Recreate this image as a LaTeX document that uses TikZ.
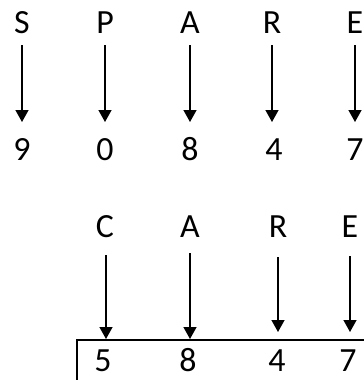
\documentclass[tikz,border=0pt]{standalone}
\usepackage{fontspec}
\setmainfont{Carlito}
\usetikzlibrary{arrows.meta}
\begin{document}
\begin{tikzpicture}[x=1bp,y=-1bp,
  lbl/.style={anchor=base,inner sep=0pt,font=\fontsize{34}{34}\selectfont},
  arr/.style={line width=1.4bp,-{Triangle[width=13bp,length=12bp]}}]
\useasboundingbox (0,0) rectangle (364,380);
\clip (0,0) rectangle (364,380);
% top word
\node[lbl] (s) at (22,33) {S};
\node[lbl] (p) at (105,33) {P};
\node[lbl] (a) at (190,33) {A};
\node[lbl] (r) at (272,33) {R};
\node[lbl] (e) at (355,33) {E};
\coordinate (s1) at (22,45);  \coordinate (s2) at (22,122);
\coordinate (p1) at (105,45); \coordinate (p2) at (105,122);
\coordinate (a1) at (190,45); \coordinate (a2) at (190,122);
\coordinate (r1) at (272,45); \coordinate (r2) at (272,122);
\coordinate (e1) at (355,45); \coordinate (e2) at (355,122);
\draw[arr] (s1) -- (s2);
\draw[arr] (p1) -- (p2);
\draw[arr] (a1) -- (a2);
\draw[arr] (r1) -- (r2);
\draw[arr] (e1) -- (e2);
% top digits
\node[lbl] (n9) at (22,160) {9};
\node[lbl] (n0) at (105,160) {0};
\node[lbl] (n8) at (190,160) {8};
\node[lbl] (n4) at (274,160) {4};
\node[lbl] (n7) at (355,160) {7};
% second word
\node[lbl] (c2) at (105,237) {C};
\node[lbl] (a2n) at (190,237) {A};
\node[lbl] (r2n) at (278,237) {R};
\node[lbl] (e2n) at (350,237) {E};
\coordinate (c21) at (106,255); \coordinate (c22) at (106,339);
\coordinate (a21) at (190,253); \coordinate (a22) at (190,339);
\coordinate (r21) at (278,257); \coordinate (r22) at (278,332);
\coordinate (e21) at (350,256); \coordinate (e22) at (350,332);
\draw[arr] (c21) -- (c22);
\draw[arr] (a21) -- (a22);
\draw[arr] (r21) -- (r22);
\draw[arr] (e21) -- (e22);
% box
\coordinate (bl) at (77,390);
\coordinate (tr) at (380,340);
\draw[line width=1.5bp] (bl) |- (tr);
\node[lbl] (b5) at (103,371) {5};
\node[lbl] (b8) at (188,371) {8};
\node[lbl] (b4) at (277,371) {4};
\node[lbl] (b7) at (348,371) {7};
\end{tikzpicture}
\end{document}
